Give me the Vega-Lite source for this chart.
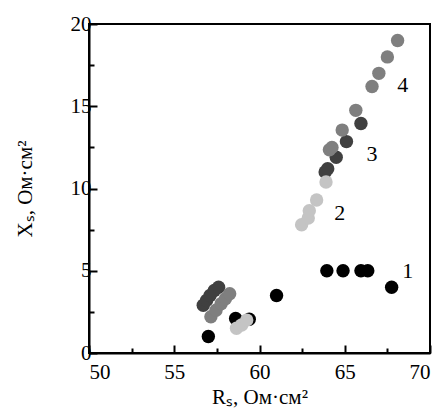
{
  "$schema": "https://vega.github.io/schema/vega-lite/v6.json",
  "autosize": "none",
  "width": 341,
  "height": 329,
  "padding": {"left": 89, "top": 24, "right": 16, "bottom": 67},
  "background": "white",
  "config": {
    "view": {"stroke": "black", "strokeWidth": 2},
    "font": "Liberation Serif",
    "axis": {
      "domainColor": "black", "domainWidth": 2, "tickColor": "black", "tickWidth": 2,
      "labelFont": "Liberation Serif", "labelFontSize": 21, "labelColor": "black",
      "titleFont": "Liberation Serif", "titleFontSize": 21, "titleFontWeight": "normal", "titleColor": "black",
      "grid": false
    }
  },
  "datasets": {
    "pts": [
      {"R": 57.0, "X": 1.0, "s": "1"},
      {"R": 58.6, "X": 2.1, "s": "1"},
      {"R": 59.4, "X": 2.05, "s": "1"},
      {"R": 61.0, "X": 3.5, "s": "1"},
      {"R": 63.95, "X": 5.0, "s": "1"},
      {"R": 64.9, "X": 5.0, "s": "1"},
      {"R": 65.95, "X": 5.0, "s": "1"},
      {"R": 66.35, "X": 5.0, "s": "1"},
      {"R": 67.75, "X": 4.0, "s": "1"},
      {"R": 56.7, "X": 2.9, "s": "3"},
      {"R": 56.9, "X": 3.2, "s": "3"},
      {"R": 57.1, "X": 3.5, "s": "3"},
      {"R": 57.35, "X": 3.8, "s": "3"},
      {"R": 57.6, "X": 4.0, "s": "3"},
      {"R": 63.85, "X": 11.0, "s": "3"},
      {"R": 64.0, "X": 11.2, "s": "3"},
      {"R": 64.5, "X": 11.9, "s": "3"},
      {"R": 65.1, "X": 12.85, "s": "3"},
      {"R": 65.95, "X": 13.95, "s": "3"},
      {"R": 57.15, "X": 2.2, "s": "4"},
      {"R": 57.45, "X": 2.6, "s": "4"},
      {"R": 57.75, "X": 3.0, "s": "4"},
      {"R": 58.0, "X": 3.3, "s": "4"},
      {"R": 58.25, "X": 3.6, "s": "4"},
      {"R": 64.1, "X": 12.35, "s": "4"},
      {"R": 64.25, "X": 12.5, "s": "4"},
      {"R": 64.85, "X": 13.55, "s": "4"},
      {"R": 65.65, "X": 14.75, "s": "4"},
      {"R": 66.6, "X": 16.2, "s": "4"},
      {"R": 67.0, "X": 17.0, "s": "4"},
      {"R": 67.5, "X": 18.0, "s": "4"},
      {"R": 68.1, "X": 19.0, "s": "4"},
      {"R": 58.65, "X": 1.5, "s": "2"},
      {"R": 58.95, "X": 1.7, "s": "2"},
      {"R": 59.25, "X": 2.0, "s": "2"},
      {"R": 62.47, "X": 7.8, "s": "2"},
      {"R": 62.86, "X": 8.2, "s": "2"},
      {"R": 62.92, "X": 8.65, "s": "2"},
      {"R": 63.35, "X": 9.3, "s": "2"},
      {"R": 63.9, "X": 10.4, "s": "2"}
    ],
    "labels": [
      {"R": 68.7, "X": 5.0, "t": "1"},
      {"R": 64.7, "X": 8.5, "t": "2"},
      {"R": 66.6, "X": 12.1, "t": "3"},
      {"R": 68.4, "X": 16.3, "t": "4"}
    ]
  },
  "resolve": {"axis": {"x": "independent", "y": "independent"}},
  "layer": [
    {
      "data": {"name": "labels"},
      "mark": {"type": "text", "fontSize": 22, "font": "Liberation Serif", "color": "black"},
      "encoding": {
        "x": {
          "field": "R", "type": "quantitative",
          "scale": {"domain": [50, 70], "nice": false, "zero": false},
          "axis": {
            "orient": "bottom",
            "title": "Rₛ, Ом·см²",
            "values": [50, 55, 60, 65, 70],
            "tickSize": -8,
            "labelPadding": 16,
            "titlePadding": 4
          }
        },
        "y": {
          "field": "X", "type": "quantitative",
          "scale": {"domain": [0, 20], "nice": false},
          "axis": {
            "orient": "left",
            "title": "Xₛ, Ом·см²",
            "values": [0, 5, 10, 15, 20],
            "tickSize": -8,
            "labelPadding": 6,
            "titlePadding": 35
          }
        },
        "text": {"field": "t"}
      }
    },
    {
      "data": {"name": "pts"},
      "mark": {"type": "circle", "size": 180, "opacity": 1},
      "encoding": {
        "x": {
          "field": "R", "type": "quantitative",
          "axis": {"orient": "bottom", "values": [52.5, 57.5, 62.5, 67.5], "tickSize": -5, "labels": false, "domain": false, "title": null}
        },
        "y": {
          "field": "X", "type": "quantitative",
          "axis": {"orient": "left", "values": [2.5, 7.5, 12.5, 17.5], "tickSize": -5, "labels": false, "domain": false, "title": null}
        },
        "color": {
          "field": "s", "type": "nominal",
          "scale": {"domain": ["1", "2", "3", "4"], "range": ["#000000", "#c4c4c4", "#404040", "#7f7f7f"]},
          "legend": null
        }
      }
    }
  ]
}
